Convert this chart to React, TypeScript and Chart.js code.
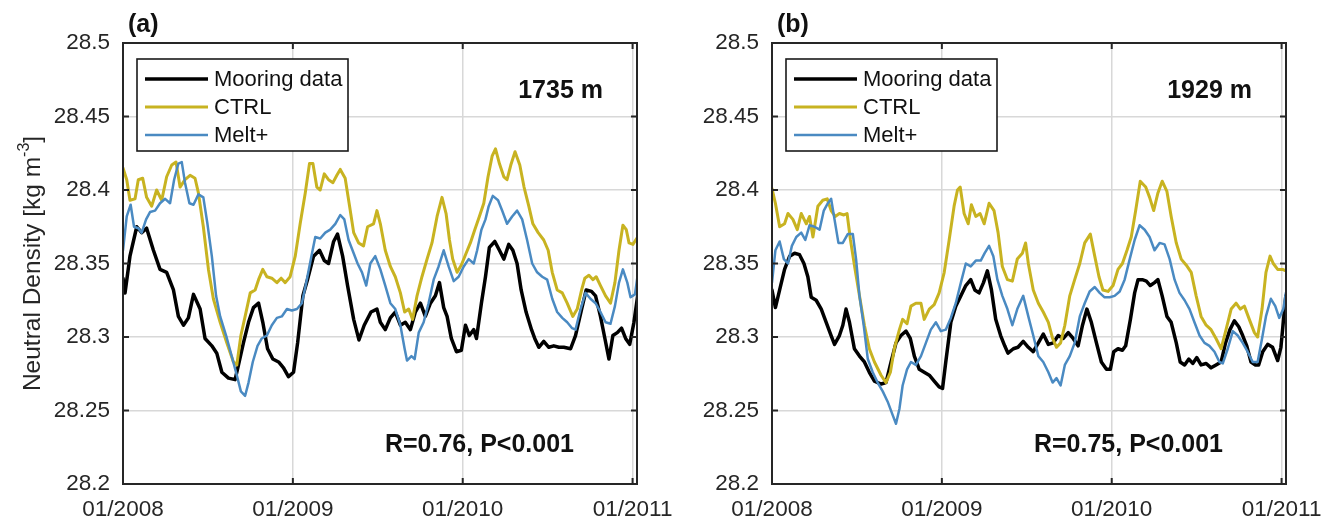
import React, { useEffect, useRef } from "react";
import { Chart, registerables } from "chart.js";

Chart.register(...registerables);

// ---------------- data (time in years since 01/2008) ----------------
const xTickValues = [0, 1, 2, 3];
const xTickLabels = ["01/2008", "01/2009", "01/2010", "01/2011"];
const yTickValues = [28.2, 28.25, 28.3, 28.35, 28.4, 28.45, 28.5];
const yTickLabels = ["28.2", "28.25", "28.3", "28.35", "28.4", "28.45", "28.5"];
const seriesNames = ["Mooring data", "CTRL", "Melt+"];

// Panel (a) 1735 m
const tMooringA = [0,0.012,0.041,0.081,0.11,0.139,0.179,0.218,0.257,0.297,0.326,0.356,0.385,0.415,0.454,0.483,0.523,0.552,0.582,0.621,0.66,0.68,0.709,0.739,0.768,0.798,0.823,0.851,0.882,0.916,0.945,0.974,1.004,1.028,1.059,1.086,1.122,1.157,1.185,1.21,1.24,1.263,1.293,1.322,1.358,1.389,1.42,1.46,1.495,1.515,1.544,1.574,1.603,1.633,1.662,1.692,1.721,1.751,1.78,1.81,1.839,1.863,1.888,1.908,1.933,1.963,1.992,2.016,2.039,2.065,2.081,2.11,2.134,2.157,2.189,2.216,2.242,2.271,2.295,2.32,2.344,2.373,2.405,2.424,2.448,2.477,2.507,2.536,2.566,2.595,2.635,2.664,2.7,2.727,2.758,2.782,2.811,2.837,2.861,2.884,2.91,2.935,2.959,2.983,3.008,3.03];
const mooringA = [28.34,28.33,28.355,28.375,28.371,28.374,28.359,28.346,28.344,28.332,28.314,28.308,28.313,28.329,28.319,28.299,28.294,28.289,28.276,28.272,28.271,28.281,28.296,28.31,28.32,28.323,28.31,28.292,28.285,28.283,28.279,28.273,28.276,28.296,28.328,28.339,28.355,28.359,28.352,28.35,28.365,28.37,28.355,28.335,28.312,28.298,28.308,28.317,28.319,28.31,28.305,28.313,28.317,28.308,28.31,28.305,28.317,28.323,28.314,28.323,28.328,28.337,28.32,28.314,28.299,28.29,28.291,28.308,28.301,28.305,28.299,28.323,28.341,28.361,28.365,28.359,28.353,28.363,28.359,28.35,28.332,28.317,28.305,28.299,28.293,28.297,28.293,28.294,28.293,28.293,28.292,28.301,28.319,28.332,28.331,28.328,28.314,28.299,28.285,28.301,28.303,28.306,28.299,28.295,28.31,28.328];

const tCtrlA = [0,0.022,0.041,0.071,0.09,0.116,0.139,0.169,0.198,0.228,0.257,0.287,0.312,0.336,0.365,0.395,0.424,0.444,0.473,0.503,0.532,0.572,0.611,0.65,0.67,0.694,0.719,0.749,0.778,0.798,0.823,0.847,0.876,0.906,0.931,0.955,0.984,1.014,1.043,1.073,1.098,1.118,1.141,1.161,1.185,1.21,1.236,1.259,1.279,1.308,1.334,1.358,1.387,1.416,1.44,1.475,1.495,1.515,1.544,1.574,1.603,1.633,1.658,1.682,1.705,1.731,1.76,1.79,1.819,1.849,1.878,1.902,1.922,1.941,1.967,1.992,2.02,2.045,2.071,2.098,2.124,2.149,2.173,2.193,2.216,2.242,2.261,2.283,2.308,2.336,2.361,2.389,2.413,2.444,2.477,2.503,2.527,2.556,2.586,2.615,2.648,2.674,2.7,2.719,2.743,2.767,2.786,2.811,2.841,2.87,2.896,2.92,2.943,2.963,2.979,3.002,3.03];
const ctrlA = [28.415,28.407,28.393,28.394,28.407,28.408,28.395,28.389,28.4,28.393,28.409,28.417,28.419,28.402,28.407,28.41,28.408,28.398,28.375,28.346,28.326,28.31,28.296,28.283,28.281,28.301,28.314,28.33,28.332,28.339,28.346,28.341,28.34,28.337,28.34,28.337,28.341,28.355,28.377,28.398,28.418,28.418,28.402,28.4,28.411,28.407,28.405,28.41,28.414,28.408,28.389,28.371,28.364,28.362,28.375,28.377,28.386,28.377,28.359,28.348,28.341,28.33,28.317,28.319,28.312,28.328,28.341,28.353,28.364,28.382,28.395,28.384,28.366,28.353,28.344,28.349,28.357,28.364,28.373,28.382,28.391,28.409,28.423,28.428,28.418,28.409,28.407,28.417,28.426,28.417,28.402,28.389,28.377,28.371,28.366,28.359,28.344,28.332,28.33,28.323,28.314,28.319,28.332,28.34,28.342,28.339,28.341,28.335,28.328,28.323,28.337,28.359,28.376,28.373,28.364,28.363,28.368];

const tMeltA = [0,0.022,0.045,0.065,0.09,0.11,0.136,0.159,0.189,0.218,0.248,0.277,0.301,0.326,0.346,0.365,0.391,0.415,0.444,0.473,0.497,0.523,0.548,0.572,0.607,0.64,0.67,0.694,0.719,0.739,0.764,0.792,0.817,0.847,0.876,0.906,0.935,0.965,0.994,1.024,1.053,1.079,1.106,1.132,1.161,1.191,1.22,1.25,1.279,1.303,1.328,1.358,1.381,1.407,1.432,1.456,1.485,1.515,1.544,1.574,1.603,1.633,1.658,1.672,1.698,1.717,1.741,1.77,1.799,1.829,1.858,1.888,1.917,1.947,1.976,2.006,2.035,2.065,2.085,2.11,2.134,2.153,2.177,2.208,2.232,2.261,2.291,2.32,2.35,2.379,2.409,2.438,2.468,2.497,2.527,2.556,2.586,2.615,2.644,2.664,2.694,2.723,2.752,2.782,2.811,2.841,2.87,2.896,2.92,2.943,2.969,2.988,3.014,3.031];
const meltA = [28.359,28.382,28.39,28.375,28.374,28.371,28.38,28.385,28.386,28.391,28.394,28.391,28.407,28.418,28.419,28.405,28.391,28.39,28.397,28.395,28.377,28.355,28.328,28.314,28.301,28.287,28.274,28.263,28.26,28.269,28.283,28.294,28.299,28.301,28.308,28.313,28.314,28.319,28.318,28.319,28.323,28.337,28.353,28.368,28.367,28.371,28.373,28.377,28.383,28.38,28.366,28.357,28.35,28.344,28.335,28.35,28.355,28.346,28.335,28.323,28.319,28.308,28.292,28.284,28.287,28.285,28.303,28.31,28.323,28.339,28.348,28.359,28.348,28.338,28.341,28.348,28.353,28.35,28.359,28.373,28.38,28.389,28.396,28.393,28.386,28.377,28.382,28.386,28.38,28.366,28.35,28.344,28.341,28.339,28.326,28.317,28.313,28.31,28.306,28.305,28.319,28.33,28.326,28.323,28.317,28.31,28.309,28.321,28.337,28.346,28.337,28.327,28.329,28.343];

// Panel (b) 1929 m
const tMooringB = [0,0.02,0.045,0.074,0.104,0.133,0.162,0.188,0.211,0.231,0.26,0.29,0.319,0.348,0.368,0.397,0.417,0.436,0.456,0.485,0.515,0.544,0.573,0.603,0.642,0.671,0.701,0.73,0.759,0.789,0.814,0.838,0.867,0.896,0.926,0.955,0.984,1.004,1.023,1.053,1.082,1.112,1.141,1.17,1.194,1.219,1.245,1.268,1.292,1.317,1.346,1.37,1.389,1.421,1.448,1.479,1.509,1.538,1.568,1.597,1.627,1.656,1.685,1.715,1.744,1.773,1.802,1.828,1.854,1.88,1.91,1.939,1.969,1.992,2.012,2.037,2.063,2.082,2.11,2.135,2.155,2.18,2.204,2.227,2.252,2.272,2.297,2.325,2.35,2.38,2.403,2.429,2.454,2.477,2.501,2.526,2.556,2.585,2.614,2.644,2.67,2.696,2.722,2.748,2.771,2.795,2.82,2.846,2.865,2.889,2.918,2.947,2.977,2.996,3.01,3.025];
const mooringB = [28.332,28.32,28.332,28.346,28.355,28.357,28.356,28.35,28.341,28.327,28.325,28.319,28.31,28.301,28.295,28.301,28.308,28.319,28.31,28.292,28.287,28.283,28.276,28.27,28.268,28.269,28.283,28.296,28.301,28.304,28.299,28.287,28.278,28.276,28.274,28.27,28.266,28.265,28.283,28.31,28.321,28.328,28.335,28.339,28.332,28.33,28.337,28.345,28.332,28.312,28.301,28.294,28.289,28.292,28.293,28.297,28.293,28.29,28.296,28.302,28.295,28.296,28.301,28.299,28.303,28.299,28.294,28.308,28.319,28.31,28.296,28.283,28.278,28.278,28.29,28.292,28.291,28.294,28.312,28.33,28.339,28.339,28.338,28.335,28.337,28.339,28.328,28.314,28.31,28.296,28.283,28.281,28.285,28.282,28.286,28.281,28.282,28.279,28.281,28.283,28.296,28.305,28.311,28.307,28.301,28.294,28.283,28.281,28.281,28.29,28.295,28.293,28.284,28.293,28.31,28.328];

const tCtrlB = [0,0.02,0.045,0.074,0.094,0.123,0.149,0.172,0.202,0.221,0.241,0.27,0.299,0.325,0.348,0.372,0.397,0.423,0.442,0.462,0.489,0.515,0.544,0.573,0.603,0.642,0.671,0.697,0.72,0.75,0.769,0.795,0.818,0.847,0.877,0.896,0.926,0.955,0.984,1.014,1.043,1.072,1.092,1.108,1.131,1.155,1.174,1.2,1.225,1.249,1.278,1.307,1.331,1.356,1.386,1.415,1.444,1.474,1.493,1.509,1.538,1.568,1.597,1.627,1.652,1.675,1.699,1.724,1.753,1.782,1.812,1.841,1.874,1.9,1.925,1.948,1.978,2.008,2.037,2.063,2.09,2.115,2.141,2.168,2.2,2.223,2.247,2.272,2.297,2.325,2.35,2.38,2.409,2.438,2.468,2.497,2.526,2.556,2.585,2.614,2.644,2.673,2.703,2.732,2.757,2.781,2.81,2.84,2.859,2.885,2.908,2.932,2.951,2.977,3.006,3.025];
const ctrlB = [28.401,28.391,28.375,28.377,28.384,28.38,28.373,28.384,28.377,28.382,28.368,28.389,28.393,28.394,28.386,28.382,28.384,28.383,28.384,28.366,28.346,28.328,28.308,28.292,28.283,28.274,28.269,28.276,28.292,28.305,28.312,28.309,28.321,28.323,28.323,28.312,28.319,28.322,28.33,28.344,28.366,28.389,28.4,28.402,28.384,28.377,28.39,28.382,28.384,28.377,28.391,28.386,28.371,28.348,28.339,28.338,28.353,28.357,28.364,28.35,28.332,28.323,28.317,28.31,28.299,28.293,28.296,28.308,28.328,28.339,28.35,28.364,28.37,28.355,28.341,28.332,28.331,28.335,28.346,28.35,28.359,28.368,28.386,28.406,28.402,28.395,28.386,28.398,28.406,28.399,28.382,28.364,28.353,28.349,28.344,28.328,28.314,28.308,28.305,28.299,28.292,28.305,28.319,28.323,28.319,28.321,28.312,28.303,28.3,28.319,28.344,28.355,28.35,28.346,28.346,28.345];

const tMeltB = [0,0.02,0.045,0.07,0.094,0.117,0.143,0.172,0.196,0.221,0.25,0.28,0.305,0.329,0.348,0.368,0.391,0.417,0.446,0.476,0.495,0.515,0.54,0.564,0.593,0.622,0.652,0.681,0.71,0.73,0.75,0.769,0.795,0.818,0.847,0.877,0.906,0.935,0.965,0.994,1.023,1.053,1.082,1.112,1.141,1.17,1.2,1.229,1.252,1.278,1.303,1.327,1.356,1.386,1.415,1.444,1.479,1.509,1.538,1.568,1.597,1.627,1.652,1.675,1.699,1.724,1.753,1.782,1.812,1.841,1.87,1.9,1.929,1.958,1.988,2.017,2.047,2.076,2.106,2.135,2.164,2.194,2.223,2.252,2.282,2.311,2.341,2.37,2.399,2.429,2.458,2.487,2.517,2.546,2.575,2.605,2.634,2.654,2.683,2.713,2.742,2.771,2.8,2.83,2.859,2.885,2.908,2.937,2.963,2.986,3.01,3.025];
const meltB = [28.337,28.359,28.365,28.353,28.35,28.362,28.368,28.371,28.366,28.376,28.375,28.373,28.386,28.391,28.394,28.38,28.364,28.364,28.37,28.37,28.353,28.328,28.308,28.285,28.276,28.269,28.263,28.256,28.247,28.241,28.251,28.267,28.278,28.283,28.281,28.287,28.296,28.305,28.31,28.304,28.305,28.313,28.323,28.337,28.35,28.348,28.352,28.352,28.357,28.362,28.355,28.339,28.328,28.319,28.308,28.319,28.328,28.314,28.301,28.287,28.283,28.276,28.269,28.272,28.267,28.281,28.287,28.296,28.314,28.323,28.331,28.334,28.33,28.327,28.327,28.328,28.331,28.339,28.353,28.366,28.376,28.373,28.368,28.359,28.364,28.363,28.353,28.339,28.33,28.325,28.319,28.31,28.301,28.296,28.294,28.29,28.283,28.282,28.292,28.304,28.301,28.296,28.29,28.283,28.283,28.299,28.314,28.326,28.321,28.313,28.319,28.33];

// ---------------- styling ----------------
const W = 1324;
const H = 522;
const X_MAX = 3.026;
const FONT = "'Liberation Sans', Arial, Helvetica, sans-serif";
const AXIS = "#262626";
const GRID = "#d8d8d8";
const COLORS: Record<string, string> = {
  "Mooring data": "#000000",
  CTRL: "#c8b321",
  "Melt+": "#4a8ac2",
};
const WIDTHS: Record<string, number> = {
  "Mooring data": 3.5,
  CTRL: 3,
  "Melt+": 2.5,
};

const pts = (t: number[], v: number[]) => t.map((x, i) => ({ x, y: v[i] }));

const framePlugin = {
  id: "frame",
  afterDatasetsDraw(chart: any, _args: any, opts: any) {
    const { ctx, chartArea: ca, scales } = chart;
    ctx.save();
    ctx.strokeStyle = AXIS;
    ctx.lineWidth = 2;
    const tl = 6;
    const seg = (x1: number, y1: number, x2: number, y2: number) => {
      ctx.beginPath();
      ctx.moveTo(x1, y1);
      ctx.lineTo(x2, y2);
      ctx.stroke();
    };
    for (const v of yTickValues) {
      const y = scales.y.getPixelForValue(v);
      seg(ca.left, y, ca.left + tl, y);
      seg(ca.right, y, ca.right - tl, y);
    }
    for (const v of xTickValues) {
      const x = scales.x.getPixelForValue(v);
      seg(x, ca.bottom, x, ca.bottom - tl);
      seg(x, ca.top, x, ca.top + tl);
    }
    ctx.strokeRect(ca.left, ca.top, ca.right - ca.left, ca.bottom - ca.top);

    // legend
    const lx = ca.left + 14;
    const ly = ca.top + 16;
    const lw = 211;
    const lh = 92;
    ctx.fillStyle = "#ffffff";
    ctx.fillRect(lx, ly, lw, lh);
    ctx.lineWidth = 1.6;
    ctx.strokeStyle = "#1a1a1a";
    ctx.strokeRect(lx, ly, lw, lh);
    ctx.font = `22px ${FONT}`;
    ctx.textBaseline = "middle";
    ctx.textAlign = "left";
    seriesNames.forEach((name, i) => {
      const y = ly + 20 + i * 28;
      ctx.strokeStyle = COLORS[name];
      ctx.lineWidth = WIDTHS[name];
      seg(lx + 8, y, lx + 71, y);
      ctx.fillStyle = "#111111";
      ctx.fillText(name, lx + 77, y + 1);
    });

    // annotations
    ctx.fillStyle = "#111111";
    ctx.font = `bold 25px ${FONT}`;
    ctx.textBaseline = "alphabetic";
    ctx.textAlign = "left";
    ctx.fillText(opts.panel, ca.left + 5, 32);
    ctx.textAlign = "right";
    ctx.fillText(opts.depth, ca.right - 34, 98);
    ctx.fillText(opts.stats, ca.right - 63, 452);

    if (opts.yTitle) {
      const cy = (ca.top + ca.bottom) / 2;
      ctx.save();
      ctx.translate(40, cy);
      ctx.rotate(-Math.PI / 2);
      ctx.fillStyle = AXIS;
      const main = "Neutral Density [kg m";
      const sup = "-3";
      const close = "]";
      const big = `24.5px ${FONT}`;
      const small = `16px ${FONT}`;
      ctx.font = big;
      const w1 = ctx.measureText(main).width;
      const w3 = ctx.measureText(close).width;
      ctx.font = small;
      const w2 = ctx.measureText(sup).width;
      let x = -(w1 + w2 + w3) / 2;
      ctx.textAlign = "left";
      ctx.font = big;
      ctx.fillText(main, x, 0);
      x += w1;
      ctx.font = small;
      ctx.fillText(sup, x, -11);
      x += w2;
      ctx.font = big;
      ctx.fillText(close, x, 0);
      ctx.restore();
    }
    ctx.restore();
  },
};

function makeConfig(p: any) {
  const tickFont = { family: FONT, size: 22.5 };
  return {
    type: "line",
    data: {
      datasets: [
        { label: "Melt+", data: pts(p.tMelt, p.melt), borderColor: COLORS["Melt+"], borderWidth: WIDTHS["Melt+"], order: 1 },
        { label: "CTRL", data: pts(p.tCtrl, p.ctrl), borderColor: COLORS.CTRL, borderWidth: WIDTHS.CTRL, order: 2 },
        { label: "Mooring data", data: pts(p.tMoor, p.moor), borderColor: COLORS["Mooring data"], borderWidth: WIDTHS["Mooring data"], order: 3 },
      ],
    },
    options: {
      responsive: false,
      animation: false,
      devicePixelRatio: 1,
      events: [],
      elements: {
        point: { radius: 0 },
        line: { tension: 0, fill: false, borderJoinStyle: "round", borderCapStyle: "round" },
      },
      layout: { padding: { left: p.padLeft, right: p.padRight, top: 43, bottom: 0 } },
      plugins: {
        legend: { display: false },
        tooltip: { enabled: false },
        frame: p.frame,
      },
      scales: {
        x: {
          type: "linear",
          min: 0,
          max: X_MAX,
          afterBuildTicks: (s: any) => {
            s.ticks = xTickValues.map((v) => ({ value: v }));
          },
          afterFit: (s: any) => {
            s.height = 38;
            s.paddingLeft = 0;
            s.paddingRight = 0;
          },
          ticks: {
            autoSkip: false,
            maxRotation: 0,
            padding: 12,
            color: AXIS,
            font: tickFont,
            callback: (v: number) => {
              const i = xTickValues.indexOf(v);
              return i >= 0 ? xTickLabels[i] : "";
            },
          },
          grid: { color: GRID, lineWidth: 1.5, drawTicks: false },
          border: { display: false },
        },
        y: {
          type: "linear",
          min: 28.2,
          max: 28.5,
          afterBuildTicks: (s: any) => {
            s.ticks = yTickValues.map((v) => ({ value: v }));
          },
          afterFit: (s: any) => {
            s.width = 123;
            s.paddingTop = 0;
            s.paddingBottom = 0;
          },
          ticks: {
            padding: 13,
            color: AXIS,
            font: tickFont,
            callback: (v: number) => {
              const i = yTickValues.findIndex((t) => Math.abs(t - v) < 1e-6);
              return i >= 0 ? yTickLabels[i] : "";
            },
          },
          grid: { color: GRID, lineWidth: 1.5, drawTicks: false },
          border: { display: false },
        },
      },
    },
    plugins: [framePlugin],
  };
}

export default function App() {
  const refA = useRef<HTMLCanvasElement>(null);
  const refB = useRef<HTMLCanvasElement>(null);

  useEffect(() => {
    document.body.style.margin = "0";
    const a = new Chart(
      refA.current as HTMLCanvasElement,
      makeConfig({
        tMoor: tMooringA, moor: mooringA,
        tCtrl: tCtrlA, ctrl: ctrlA,
        tMelt: tMeltA, melt: meltA,
        padLeft: 0, padRight: W - 637,
        frame: { panel: "(a)", depth: "1735 m", stats: "R=0.76, P<0.001", yTitle: true },
      }) as any
    );
    const b = new Chart(
      refB.current as HTMLCanvasElement,
      makeConfig({
        tMoor: tMooringB, moor: mooringB,
        tCtrl: tCtrlB, ctrl: ctrlB,
        tMelt: tMeltB, melt: meltB,
        padLeft: 772 - 123, padRight: W - 1286,
        frame: { panel: "(b)", depth: "1929 m", stats: "R=0.75, P<0.001", yTitle: false },
      }) as any
    );
    return () => {
      a.destroy();
      b.destroy();
    };
  }, []);

  return (
    <div style={{ position: "relative", width: W, height: H, background: "#ffffff" }}>
      <canvas ref={refA} width={W} height={H} style={{ position: "absolute", left: 0, top: 0 }} />
      <canvas ref={refB} width={W} height={H} style={{ position: "absolute", left: 0, top: 0 }} />
    </div>
  );
}
